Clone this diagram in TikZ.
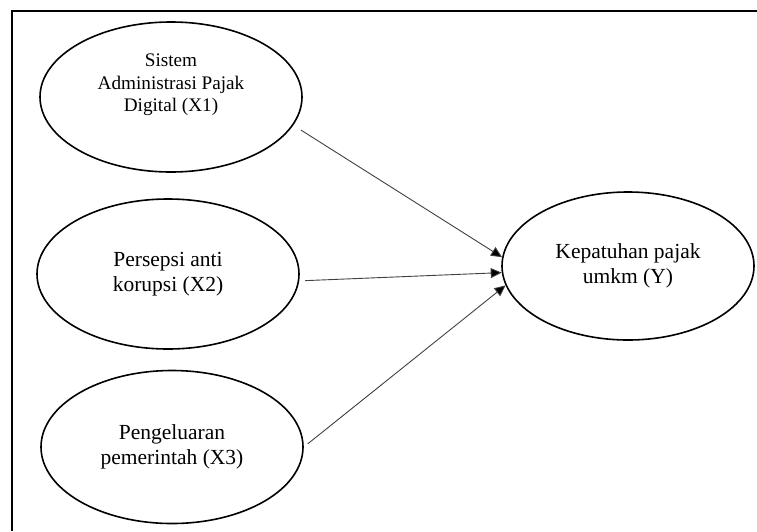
\documentclass[tikz,border=0pt]{standalone}
\usepackage{fontspec}
\setmainfont{Liberation Serif}
\usetikzlibrary{shapes.geometric,arrows.meta}
\tikzset{
  var/.style={ellipse, draw=black, line width=1.6pt, inner sep=0pt, align=center,
    font=\fontsize{21.5}{25}\selectfont},
  arr/.style={draw=black!75, line width=0.9pt, -{Triangle[length=11pt,width=10pt,fill=black]}}
}
\begin{document}
\begin{tikzpicture}[x=1pt,y=-1pt]
\useasboundingbox (0,0) rectangle (757,531);
\draw[line width=2pt] (12,531) -- (12,11) -- (757,11);
\node[var, minimum width=262pt, minimum height=150pt, font=\fontsize{19.2}{22.5}\selectfont] (x1) at (171,97) {Sistem\\Administrasi Pajak\\Digital (X1)\\[6pt]};
\node[var, minimum width=262pt, minimum height=150pt] (x2) at (168,274) {Persepsi anti\\korupsi (X2)};
\node[var, minimum width=262pt, minimum height=153pt] (x3) at (172,447) {Pengeluaran\\pemerintah (X3)};
\node[var, minimum width=252pt, minimum height=148pt] (y) at (628,266) {Kepatuhan pajak\\umkm (Y)};
\draw[arr, shorten <=9pt] (x1.-13) -- (y.176);
\draw[arr, shorten <=6pt] (x2.-3) -- (y.183);
\draw[arr, shorten <=5pt] (x3.0) -- (y.189);
\end{tikzpicture}
\end{document}
